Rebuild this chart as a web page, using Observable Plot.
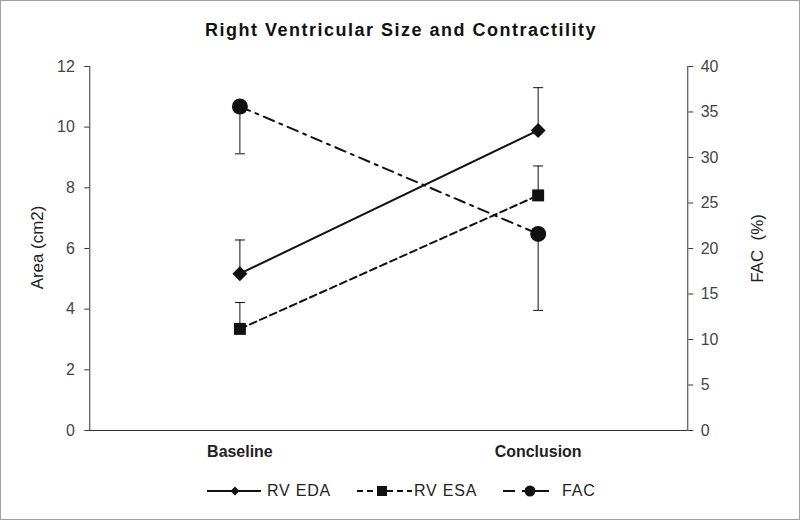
<!DOCTYPE html>
<html><head><meta charset="utf-8">
<script src="https://cdn.jsdelivr.net/npm/d3@7"></script>
<script src="https://cdn.jsdelivr.net/npm/@observablehq/plot@0.6"></script>
<style>
html,body{margin:0;padding:0;background:#fff;}
#wrap{width:800px;height:520px;box-sizing:border-box;border:1px solid #a0a0a0;position:relative;font-family:"Liberation Sans",Arial,sans-serif;overflow:hidden;}
#title{position:absolute;left:0;top:19px;width:800px;text-align:center;font-weight:bold;font-size:18px;letter-spacing:1.5px;color:#111;}
#chart{position:absolute;left:-1px;top:44px;}
#legend{position:absolute;left:-1px;top:477px;width:800px;height:26px;}
.leg{position:absolute;top:0;height:26px;}
.legtxt{position:absolute;top:4px;font-size:16px;letter-spacing:0.8px;color:#222;white-space:pre;}
</style></head>
<body><div id="wrap">
<div id="title">Right Ventricular Size and Contractility</div>
<div id="chart"></div>
<div id="legend"></div>
</div>
<script>
const categories = ["Baseline", "Conclusion"];
const edaMean = [5.17, 9.89];
const edaUpper = [6.28, 11.3];
const esaMean = [3.35, 7.75];
const esaUpper = [4.22, 8.72];
const facMean = [35.6, 21.6];
const facLower = [30.4, 13.2];
const leftTicks = [0, 2, 4, 6, 8, 10, 12];
const rightTicks = [0, 5, 10, 15, 20, 25, 30, 35, 40];
const seriesNames = ["RV EDA", "RV ESA", "FAC"];

const k = 12 / 40; // FAC (%) -> area axis units
const eda = categories.map((c, i) => ({c, y: edaMean[i], e: edaUpper[i]}));
const esa = categories.map((c, i) => ({c, y: esaMean[i], e: esaUpper[i]}));
const fac = categories.map((c, i) => ({c, y: facMean[i] * k, e: facLower[i] * k}));

const cap = {draw(ctx, size) { ctx.moveTo(-5, 0); ctx.lineTo(5, 0); }};
const diamond = {draw(ctx, size) { const r = 7.5; ctx.moveTo(0, -r); ctx.lineTo(r, 0); ctx.lineTo(0, r); ctx.lineTo(-r, 0); ctx.closePath(); }};
const square = {draw(ctx, size) { const r = 6; ctx.rect(-r, -r, 2*r, 2*r); }};

const errMarks = (data) => [
  Plot.ruleX(data, {x: "c", y1: "y", y2: "e", stroke: "#111", strokeWidth: 1}),
  Plot.dot(data, {x: "c", y: "e", symbol: cap, stroke: "#111", strokeWidth: 1, fill: "none"})
];

const chart = Plot.plot({
  width: 801, height: 432,
  marginTop: 21, marginBottom: 46, marginLeft: 89.5, marginRight: 112,
  style: {fontFamily: '"Liberation Sans", Arial, sans-serif', fontSize: "16px", color: "#333", background: "white"},
  x: {type: "point", domain: categories, padding: 0.5, label: null},
  y: {domain: [0, 12], label: null},
  marks: [
    Plot.ruleY([0], {stroke: "#333", strokeWidth: 1.2}),
    Plot.frame({anchor: "left", stroke: "#333"}),
    Plot.frame({anchor: "right", stroke: "#333"}),
    Plot.axisY({ticks: leftTicks, anchor: "left", tickSize: 5, tickPadding: 10, label: null, fontSize: 16, fill: "#444"}),
    Plot.axisY({ticks: rightTicks.map(v => v * k), anchor: "right", tickSize: 5, tickPadding: 8, label: null, fontSize: 16, fill: "#444", tickFormat: d => String(Math.round(d / k))}),
    Plot.axisX({tickSize: 0, tickPadding: 15, label: null, fontSize: 16, fontWeight: "bold", fill: "#222", letterSpacing: "1.2px"}),
    Plot.text(["Area (cm2)"], {frameAnchor: "left", textAnchor: "middle", rotate: -90, dx: -52, dy: -1, fontSize: 17, letterSpacing: "0.8px", fill: "#222"}),
    Plot.text(["FAC  (%)"], {frameAnchor: "right", textAnchor: "middle", rotate: -90, dx: 70, dy: 0, fontSize: 17, letterSpacing: "0.5px", fill: "#222"}),
    ...errMarks(eda), ...errMarks(esa), ...errMarks(fac),
    Plot.line(eda, {x: "c", y: "y", stroke: "#111", strokeWidth: 2}),
    Plot.line(esa, {x: "c", y: "y", stroke: "#111", strokeWidth: 2, strokeDasharray: "7,4"}),
    Plot.line(fac, {x: "c", y: "y", stroke: "#111", strokeWidth: 2, strokeDasharray: "11,6,3,6"}),
    Plot.dot(eda, {x: "c", y: "y", symbol: diamond, fill: "#111", stroke: "none"}),
    Plot.dot(esa, {x: "c", y: "y", symbol: square, fill: "#111", stroke: "none"}),
    Plot.dot(fac, {x: "c", y: "y", r: 8, fill: "#111", stroke: "none"})
  ]
});
document.getElementById("chart").appendChild(chart);

// legend
const legendItems = [
  {name: seriesNames[0], x0: 207, x1: 261, cx: 235, text: 267, sym: "diamond"},
  {name: seriesNames[1], x0: 357, x1: 412, cx: 382, text: 414, sym: "square"},
  {name: seriesNames[2], x0: 503, x1: 549, cx: 530, text: 562, sym: "circle"}
];
const leg = document.getElementById("legend");
for (const it of legendItems) {
  const w = it.x1 - it.x0, h = 26, cx = it.cx - it.x0, cy = 13;
  const d = document.createElement("div");
  d.className = "leg";
  d.style.left = it.x0 + "px";
  let sym = "";
  if (it.sym === "diamond") sym = `<path d="M${cx},${cy-4.5} L${cx+4.5},${cy} L${cx},${cy+4.5} L${cx-4.5},${cy}Z" fill="#111"/>`;
  else if (it.sym === "square") sym = `<rect x="${cx-5}" y="${cy-5}" width="10" height="10" fill="#111"/>`;
  else sym = `<circle cx="${cx}" cy="${cy}" r="5.5" fill="#111"/>`;
  let lineEl;
  if (it.sym === "circle") lineEl = `<line x1="0" y1="${cy}" x2="12" y2="${cy}" stroke="#111" stroke-width="2"/><line x1="${cx-8}" y1="${cy}" x2="${w}" y2="${cy}" stroke="#111" stroke-width="2"/>`;
  else if (it.sym === "square") lineEl = `<line x1="0" y1="${cy}" x2="${w}" y2="${cy}" stroke="#111" stroke-width="2" stroke-dasharray="6,4"/>`;
  else lineEl = `<line x1="0" y1="${cy}" x2="${w}" y2="${cy}" stroke="#111" stroke-width="2"/>`;
  d.innerHTML = `<svg width="${w}" height="${h}">${lineEl}${sym}</svg>`;
  leg.appendChild(d);
  const t = document.createElement("div");
  t.className = "legtxt";
  t.style.left = it.text + "px";
  t.textContent = it.name;
  leg.appendChild(t);
}
</script>
</body></html>
